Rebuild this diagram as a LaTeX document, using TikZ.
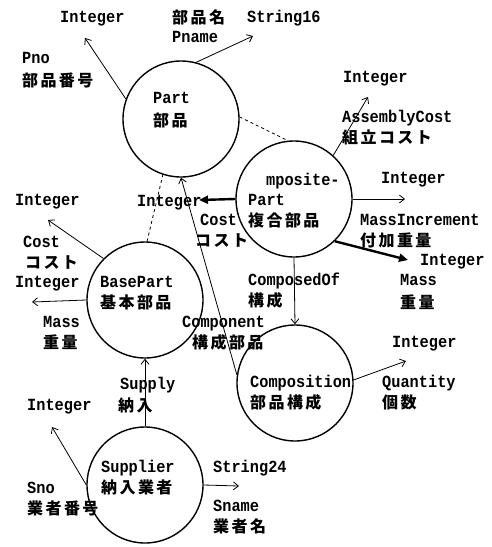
\documentclass[tikz,border=0pt]{standalone}
\usepackage{fontspec}
\usetikzlibrary{arrows.meta}
\newfontfamily\mylatfam[FakeStretch=0.9]{Liberation Mono}
\newfontfamily\myjpfam[LetterSpace=15]{Noto Sans CJK JP}
\newcommand\mylat{\mylatfam\bfseries\fontsize{17pt}{20pt}\selectfont}
\newcommand\myjp{\myjpfam\bfseries\fontsize{16pt}{20pt}\selectfont}
\begin{document}
\begin{tikzpicture}[x=1pt,y=-1pt,
  ent/.style={draw, circle, minimum size=116pt, inner sep=0pt, line width=1.4pt},
  la/.style={anchor=base west, inner sep=0pt, yshift=-5.6pt, font=\mylat},
  ja/.style={anchor=base west, inner sep=0pt, yshift=-6pt, font=\myjp},
  attr/.style={line width=0.8pt, -{Straight Barb[length=5pt,width=8pt]}},
  fat/.style={line width=2.4pt, -{Triangle[length=9pt,width=8pt]}},
  isa/.style={line width=0.8pt, dash pattern=on 3pt off 3pt}]
\useasboundingbox (0,0) rectangle (492,547);
% entities
\node[ent] (part) at (181,119) {};
\node[ent] (comp) at (294,199) {};
\node[ent] (base) at (145,300) {};
\node[ent] (cmpn) at (295,383) {};
\node[ent] (sup)  at (145,485) {};
% entity names
\node[la] (partE) at (153,98) {Part};
\node[ja] (partJ) at (153,120) {部品};
\node[la] (compE1) at (266,180) {mposite-};
\node[la] (compE2) at (248,200) {Part};
\node[ja] (compJ) at (248,220) {複合部品};
\node[la] (baseE) at (100,282) {BasePart};
\node[ja] (baseJ) at (100,302) {基本部品};
\node[la] (cmpnE) at (250,382) {Composition};
\node[ja] (cmpnJ) at (250,402) {部品構成};
\node[la] (supE) at (101,467) {Supplier};
\node[ja] (supJ) at (101,487) {納入業者};
% attribute labels
\node[la] (tPno) at (60,17) {Integer};
\node[ja] (pnameJ) at (172,17) {部品名};
\node[la] (pnameE) at (172,37) {Pname};
\node[la] (tPname) at (247,17) {String16};
\node[la] (pnoE) at (22,58) {Pno};
\node[ja] (pnoJ) at (22,80) {部品番号};
\node[la] (tAsm) at (343,77) {Integer};
\node[la] (asmE) at (342,117) {AssemblyCost};
\node[ja] (asmJ) at (342,137) {組立コスト};
\node[la] (tMinc) at (381,178) {Integer};
\node[la] (mincE) at (360,220) {MassIncrement};
\node[ja] (mincJ) at (360,240) {付加重量};
\node[la] (tCMass) at (420,260) {Integer};
\node[la] (cmassE) at (400,280) {Mass};
\node[ja] (cmassJ) at (400,302) {重量};
\node[la] (tCCost) at (137,201) {Integer};
\node[la] (ccostE) at (200,220) {Cost};
\node[ja] (ccostJ) at (195,240) {コスト};
\node[la] (tBCost) at (15,200) {Integer};
\node[la] (bcostE) at (23,242) {Cost};
\node[ja] (bcostJ) at (25,262) {コスト};
\node[la] (tBMass) at (15,282) {Integer};
\node[la] (bmassE) at (43,322) {Mass};
\node[ja] (bmassJ) at (43,342) {重量};
\node[la] (cofE) at (248,280) {ComposedOf};
\node[ja] (cofJ) at (248,300) {構成};
\node[la] (cmpE) at (182,322) {Component};
\node[ja] (cmpJ) at (192,342) {構成部品};
\node[la] (tQty) at (392,342) {Integer};
\node[la] (qtyE) at (382,382) {Quantity};
\node[ja] (qtyJ) at (382,402) {個数};
\node[la] (splE) at (120,384) {Supply};
\node[ja] (splJ) at (118,405) {納入};
\node[la] (tSno) at (27,405) {Integer};
\node[la] (snoE) at (27,488) {Sno};
\node[ja] (snoJ) at (27,508) {業者番号};
\node[la] (tSname) at (213,467) {String24};
\node[la] (snameE) at (213,506) {Sname};
\node[ja] (snameJ) at (213,526) {業者名};
% free arrow ends
\coordinate (ePno) at (85,38);
\coordinate (ePname) at (253,36);
\coordinate (eAsm) at (368,97);
\coordinate (eMinc) at (405,199);
\coordinate (eCMass) at (408,260);
\coordinate (eCCost) at (199,200);
\coordinate (eBCost) at (48,220);
\coordinate (eBMass) at (32,302);
\coordinate (eQty) at (406,361);
\coordinate (eSno) at (52,427);
\coordinate (eSname) at (239,486);
% connectors
\draw[attr] (part.160) -- (ePno);
\draw[attr] (part.75) -- (ePname);
\draw[isa] (part.2) -- (comp.96);
\draw[attr] (comp.48) -- (eAsm);
\draw[attr] (comp.0) -- (eMinc);
\draw[fat] (comp.-46) -- (eCMass);
\draw[fat] (comp.180) -- (eCCost);
\draw[isa] (base.88) -- (part.252);
\draw[attr] (cmpn.172) -- (part.270);
\draw[attr] (comp.270) -- (cmpn.90);
\draw[attr] (cmpn.3) -- (eQty);
\draw[attr] (base.135) -- (eBCost);
\draw[attr] (base.180) -- (eBMass);
\draw[attr] (sup.90) -- (base.270);
\draw[attr] (sup.180) -- (eSno);
\draw[attr] (sup.0) -- (eSname);
\end{tikzpicture}
\end{document}
